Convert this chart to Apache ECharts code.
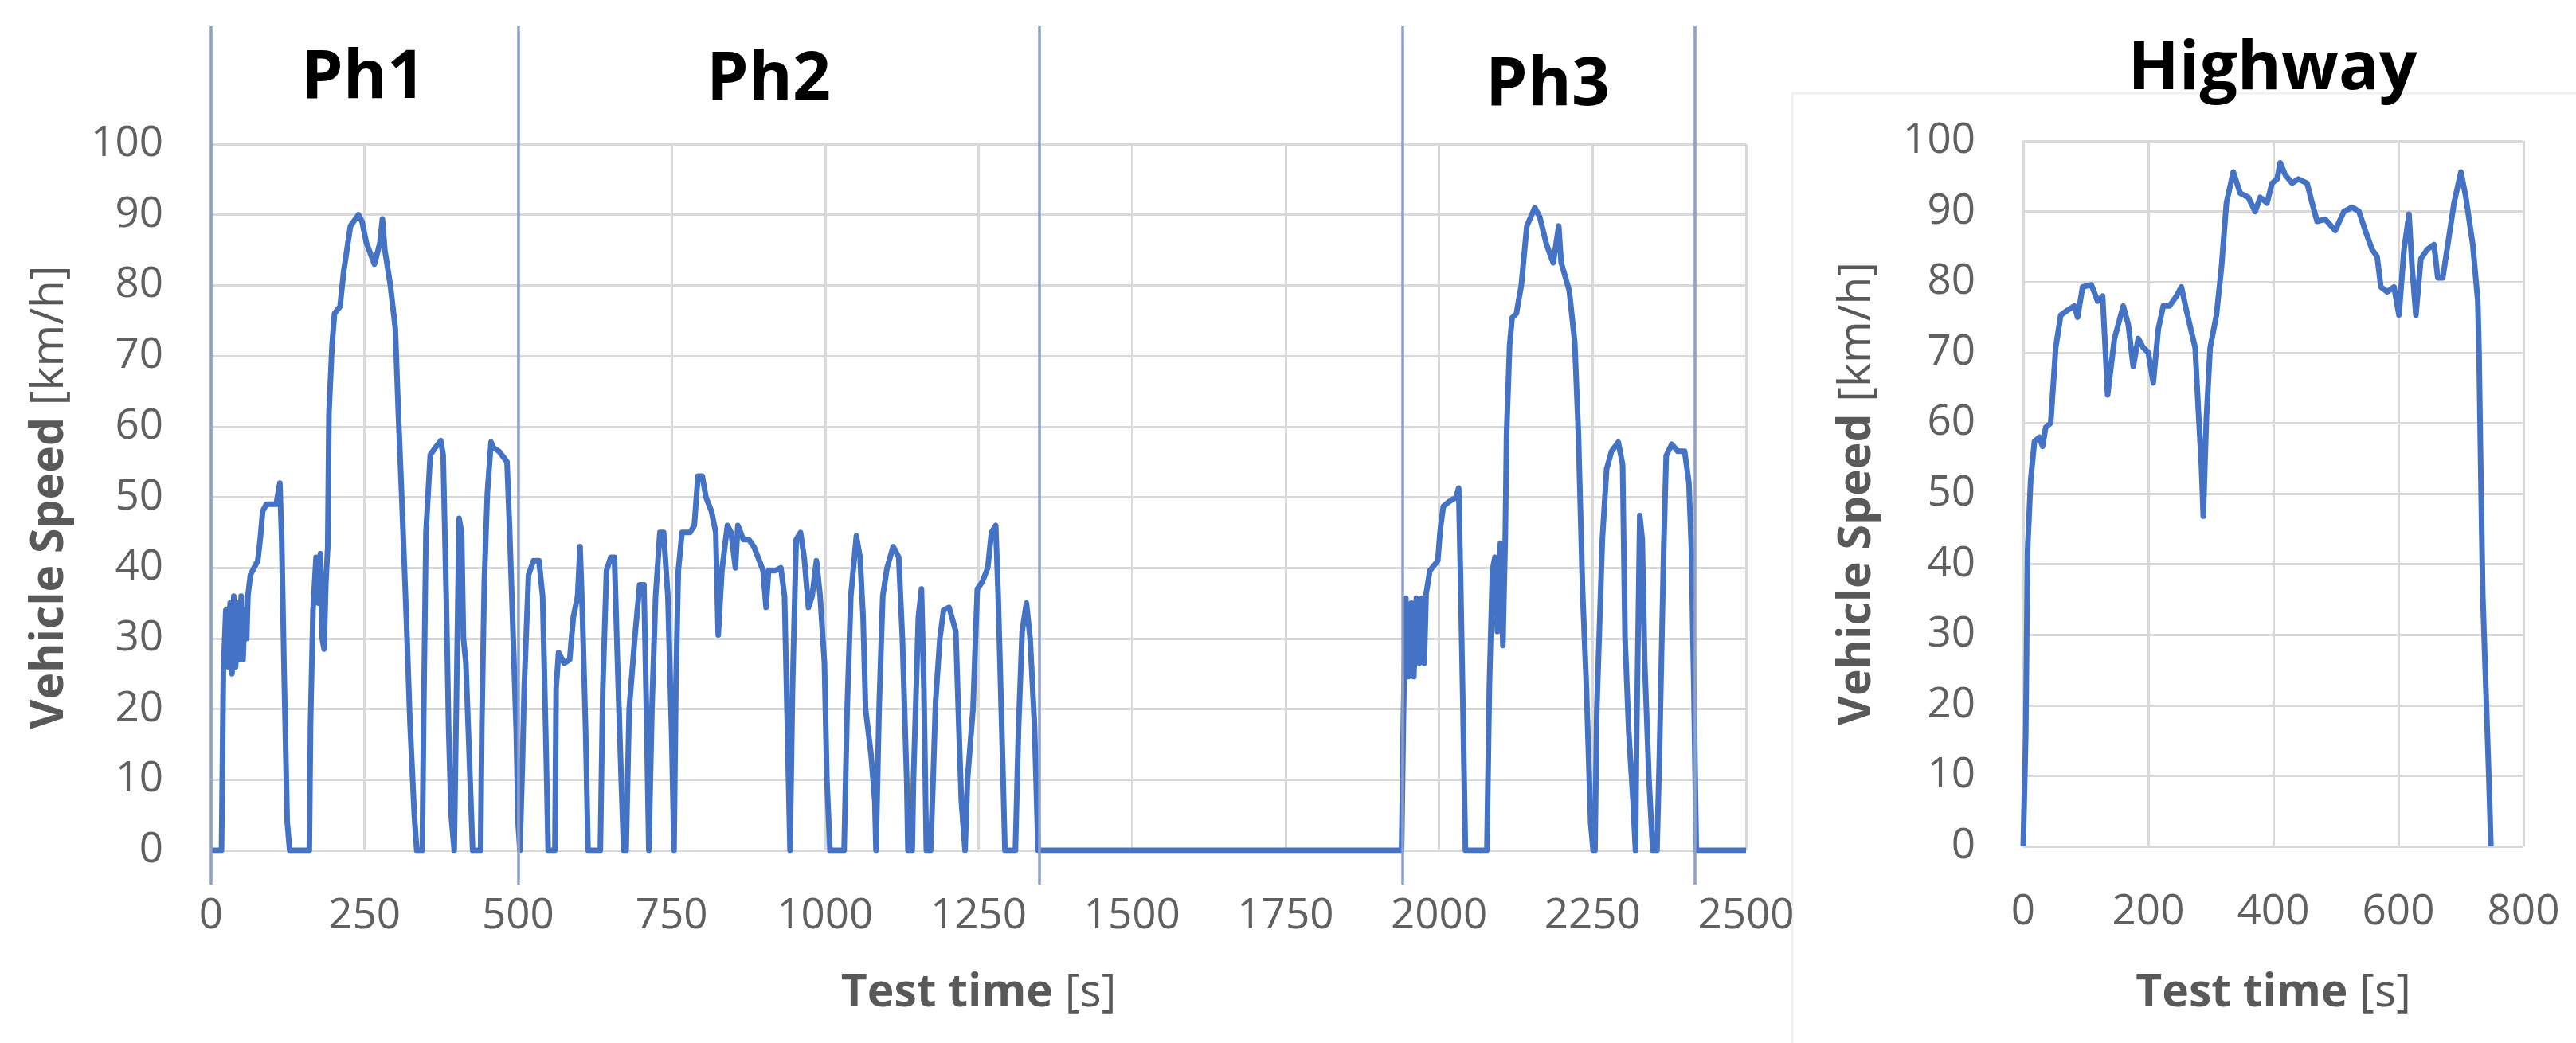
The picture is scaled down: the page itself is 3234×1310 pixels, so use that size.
<!DOCTYPE html>
<html>
<head>
<meta charset="utf-8">
<script src="https://cdn.jsdelivr.net/npm/echarts@6/dist/echarts.min.js"></script>
<style>
html,body{margin:0;padding:0;background:#fff;}
#chart{width:3234px;height:1310px;}
</style>
</head>
<body>
<div id="chart"></div>
<script>
// ---- Urban cycle (Ph1, Ph2, soak, Ph3) ----
const cycleTime = [0,17,20,24,28,31,34,37,40,43,46,49,52,55,58,60,64,70,76,80,84,90,100,106,112,115,119,124,128,
160,162,166,171,175,178,181,184,187,190,192,197,201,210,216,227,240,246,253,266,275,279,283,292,300,305,311,318,324,331,335,
344,346,350,357,365,374,378,383,387,391,396,398,404,408,411,415,419,426,439,441,445,450,456,460,469,482,486,491,497,500,503,
507,510,517,525,534,540,545,549,560,562,566,575,584,590,597,601,605,610,614,634,638,644,651,657,662,668,672,676,681,690,698,705,709,713,
715,718,724,731,737,744,750,754,756,757,761,767,780,787,793,800,806,815,822,826,832,841,847,854,858,867,876,884,893,899,904,908,919,928,934,938,943,
945,947,953,960,966,973,979,986,992,999,1003,1008,1031,1036,1042,1051,1057,1062,1066,1075,1081,1083,1085,1088,1094,1101,1111,1120,1126,1133,1135,
1142,1144,1152,1157,1161,1165,1172,1176,1180,1187,1193,1202,1213,1217,1222,1228,1230,1232,1241,1248,1256,1265,1271,1278,1282,1289,1293,
1310,1315,1321,1328,1334,1341,1347,1939,
1942,1946,1950,1955,1959,1963,1968,1972,1976,1979,1985,1998,2002,2007,2017,2028,2032,2035,2039,2043,2078,2082,2087,2091,2095,2100,2104,2108,2110,
2115,2119,2126,2134,2143,2156,2164,2175,2186,2195,2199,2212,2221,2227,2234,2240,2247,2251,2254,2257,2266,2273,2281,2292,2299,2303,2309,2316,2320,
2322,2327,2331,2335,2342,2348,2355,2359,2366,2370,2379,2389,2400,2407,2411,2415,2419,2500];
const cycleSpeed = [0,0,25,34,26,35,25,36,26,35,27,36,27,34,30,36,39,40,41,44,48,49,49,49,52,44,25,4,0,
0,18,34,41.5,35,42,30,28.5,38,43,62,71.5,76,77,82,88.4,90,89,86,83,86,89.4,85,80,74,62,49,33,18,5,0,
0,17,45,56,57,58,56,36,17,5,0,12,47,45,30,26.5,17,0,0,18,38,50.6,57.8,57,56.5,55,46,33,17,4,0,
12,23,39,41,41,36,17,0,0,23,28,26.5,27,33,36,43,33,17,0,0,23,39.6,41.5,41.5,26.5,10,0,0,20,30,37.6,37.6,20,0,
0,20,36,45,45,36,17,0,0,23,39.6,45,45,46,53,53,50,48,45,30.5,39.6,46,45,40,46,44,44,43,41,39.6,34.4,39.6,39.6,40,36,20,0,
0,23,44,45,41.5,34.4,36,41,36,26.5,10,0,0,20,36,44.5,41.5,33,20,13.5,7,0,0,20,36,40,43,41.5,30,10,0,
0,10,33,37,23,0,0,10,21,30,34,34.4,31,20,7,0,0,10,20,37,38,40,45,46,36,13.5,0,
0,17,31,35,30,18,0,0,
18.75,35.7,24.6,35,24.6,35.7,26.5,35.7,26.5,36.3,39.6,41,45.4,48.7,49.4,50,51.3,39,20,0,0,23.3,39.6,41.5,31,43.5,29,44.8,59,
71.5,75.4,76,80,88.4,91,89.7,85.8,83.2,88.4,83.2,79.3,72,59,36.3,23.3,3.8,0,0,20,44,54,56.5,57.8,54.6,30,16.8,7,0,
17,47.4,44,26.5,10,0,0,13.5,42.8,55.9,57.5,56.5,56.5,52,42.8,23.3,0,0];

// phase boundaries [s] and phase names
const phaseBounds = [0, 500, 1349, 1941, 2417];
const phaseNames = ['Ph1', 'Ph2', 'Ph3'];

// ---- Highway cycle ----
const hwyTime = [0,4,7,12,18,26,31,36,44,52,60,71,82,87,95,109,119,127,135,146,160,168,176,184,192,200,208,216,224,234,245,253,261,275,280,285,288,293,299,
309,317,325,336,347,360,371,379,390,398,406,411,419,430,440,454,462,470,483,499,513,526,537,547,558,566,572,582,593,601,609,617,622,628,636,646,657,663,671,679,
689,700,708,719,727,729,732,735,740,745,748];
const hwySpeed = [0,15.6,42,52,57.4,58,56.7,59.4,60,70.7,75.3,76,76.6,75,79.3,79.6,77.3,78,64,72,76.6,74,68,72,70.7,70,65.7,73.3,76.6,76.6,78,79.3,76,70.7,62,54,46.8,60.7,70.7,
75.3,82,91.2,95.6,92.6,92,90,92,91.2,94,94.6,96.9,95.2,94,94.6,94,91.2,88.6,88.9,87.3,90,90.6,90,87.3,84.6,83.6,79.3,78.6,79.3,75.3,84.6,89.6,82,75.3,83.3,84.6,85.3,80.6,80.6,85.3,
91.2,95.6,92,85.3,77.3,70,52,35.5,22.2,9,0];

const FONT = '"Open Sans", "DejaVu Sans", sans-serif';
const GRAY = '#595959';
const GRID_COLOR = '#d9d9d9';
const LINE_COLOR = '#4472C4';

const pairs = (xs, ys) => xs.map((x, i) => [x, ys[i]]);

const axisLabel = (margin) => ({
  color: '#606060', fontSize: 53, fontFamily: FONT, margin: margin, lineHeight: 53,
  formatter: (v) => String(v)
});
const splitLine = { show: true, lineStyle: { color: GRID_COLOR, width: 3 } };
const nameStyle = {
  rich: {
    b: { fontFamily: FONT, fontSize: 57, fontWeight: 'bold', color: GRAY, lineHeight: 68 },
    r: { fontFamily: FONT, fontSize: 57, fontWeight: 'normal', color: GRAY, lineHeight: 68 }
  }
};

const chart = echarts.init(document.getElementById('chart'), null, { renderer: 'canvas' });

const option = {
  backgroundColor: '#ffffff',
  animation: false,
  grid: [
    { left: 265, right: 1042, top: 181, bottom: 242 },
    { left: 265, right: 1042, top: 33, bottom: 199 },
    { left: 2540, right: 66, top: 177, bottom: 247 }
  ],
  xAxis: [
    {
      gridIndex: 0, type: 'value', min: 0, max: 2500, interval: 250,
      axisLine: { show: false }, axisTick: { show: false },
      axisLabel: axisLabel(56), splitLine: splitLine,
      name: '{b|Test time}{r| [s]}', nameLocation: 'middle', nameGap: 146, nameTextStyle: nameStyle
    },
    { gridIndex: 1, type: 'value', min: 0, max: 2500, show: false },
    {
      gridIndex: 2, type: 'value', min: 0, max: 800, interval: 200,
      axisLine: { show: false }, axisTick: { show: false },
      axisLabel: axisLabel(56), splitLine: splitLine,
      name: '{b|Test time}{r| [s]}', nameLocation: 'middle', nameGap: 151, nameTextStyle: nameStyle
    }
  ],
  yAxis: [
    {
      gridIndex: 0, type: 'value', min: 0, max: 100, interval: 10,
      axisLine: { show: false }, axisTick: { show: false },
      axisLabel: axisLabel(60), splitLine: splitLine,
      name: '{b|Vehicle Speed}{r| [km/h]}', nameLocation: 'middle', nameGap: 168, nameTextStyle: nameStyle
    },
    { gridIndex: 1, type: 'value', min: 0, max: 1, show: false },
    {
      gridIndex: 2, type: 'value', min: 0, max: 100, interval: 10,
      axisLine: { show: false }, axisTick: { show: false },
      axisLabel: axisLabel(60), splitLine: splitLine,
      name: '{b|Vehicle Speed}{r| [km/h]}', nameLocation: 'middle', nameGap: 174, nameTextStyle: nameStyle
    }
  ],
  series: [
    {
      type: 'line', xAxisIndex: 1, yAxisIndex: 1, data: [], z: 2, silent: true,
      markLine: {
        silent: true, symbol: ['none', 'none'], animation: false,
        label: { show: false },
        lineStyle: { color: '#8e9fca', width: 3.5, type: 'solid' },
        emphasis: { disabled: true },
        data: phaseBounds.map(t => ({ xAxis: t }))
      }
    },
    {
      type: 'line', xAxisIndex: 0, yAxisIndex: 0, z: 3,
      data: pairs(cycleTime, cycleSpeed), showSymbol: false, symbol: 'none',
      lineStyle: { color: LINE_COLOR, width: 7, join: 'round' }
    },
    {
      type: 'line', xAxisIndex: 2, yAxisIndex: 2, z: 3,
      data: pairs(hwyTime, hwySpeed), showSymbol: false, symbol: 'none',
      lineStyle: { color: LINE_COLOR, width: 7, join: 'round' }
    }
  ],
  graphic: [
    { type: 'rect', z: -10, silent: true, shape: { x: 2250, y: 117, width: 1100, height: 1300 },
      style: { fill: 'none', stroke: '#f1f1f1', lineWidth: 3 } }
  ]
};

chart.setOption(option);

// Phase labels and Highway title
const labelY = [99, 101, 108];
const labelX = [456, 965, 1943];
const texts = phaseNames.map((n, i) => ({
  type: 'text', x: labelX[i], y: labelY[i],
  style: { text: n, fontFamily: FONT, fontSize: 84, fontWeight: 'bold', fill: '#000',
    align: 'center', verticalAlign: 'middle', textAlign: 'center', textVerticalAlign: 'middle' }
}));
texts.push({
  type: 'text', x: 2853, y: 88,
  style: { text: 'Highway', fontFamily: FONT, fontSize: 84, fontWeight: 'bold', fill: '#000',
    align: 'center', verticalAlign: 'middle', textAlign: 'center', textVerticalAlign: 'middle' }
});
chart.setOption({ graphic: option.graphic.concat(texts) });
</script>
</body>
</html>
